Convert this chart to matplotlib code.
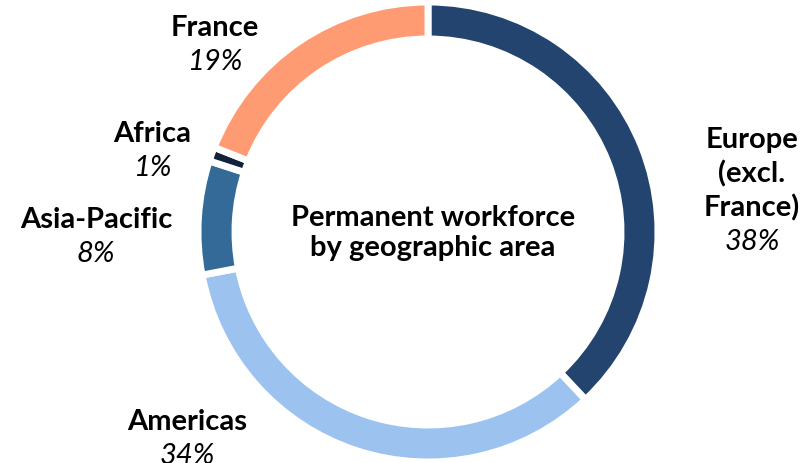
import matplotlib.pyplot as plt

# --- データ ---
areas = ["Europe\n(excl.\nFrance)", "Americas", "Asia-Pacific", "Africa", "France"]
shares = [38, 34, 8, 1, 19]
colors = ["#22446F", "#9CC2F0", "#346A98", "#12223A", "#FF9B73"]

plt.rcParams['font.family'] = ['Lato', 'DejaVu Sans']

fig = plt.figure(figsize=(8.03, 4.63), dpi=100)
ax = fig.add_axes([0, 0, 1, 1])
ax.set_xlim(0, 803)
ax.set_ylim(0, 463)
ax.set_aspect('equal')
ax.axis('off')

cx, cy, r = 428, 231, 230
wedges, _ = ax.pie(shares, colors=colors, startangle=90, counterclock=False,
                   center=(cx, cy), radius=r,
                   wedgeprops=dict(width=37, edgecolor='white', linewidth=5))
ax.set_xlim(0, 803)
ax.set_ylim(0, 463)

# ラベル位置 (name_x, name_y) in pixel coords (y from top)
label_pos = [(752, 174), (187, 422), (96, 220), (152, 134), (215, 28)]
for name, val, (lx, ly) in zip(areas, shares, label_pos):
    nlines = name.count("\n") + 1
    step = 34
    top = ly - (nlines - 1) * step / 2
    for i, line in enumerate(name.split("\n")):
        ax.text(lx, 463 - (top + i * step), line, ha='center', va='center',
                fontsize=21, fontweight='bold', color='black')
    ax.text(lx, 463 - (top + nlines * step), f"{val}%", ha='center', va='center',
            fontsize=21, fontstyle='italic', color='black')

ax.text(433, 463 - 233, "Permanent workforce\nby geographic area", ha='center',
        va='center', fontsize=21, fontweight='bold', linespacing=1.2)

fig.savefig("out.png", dpi=100)
